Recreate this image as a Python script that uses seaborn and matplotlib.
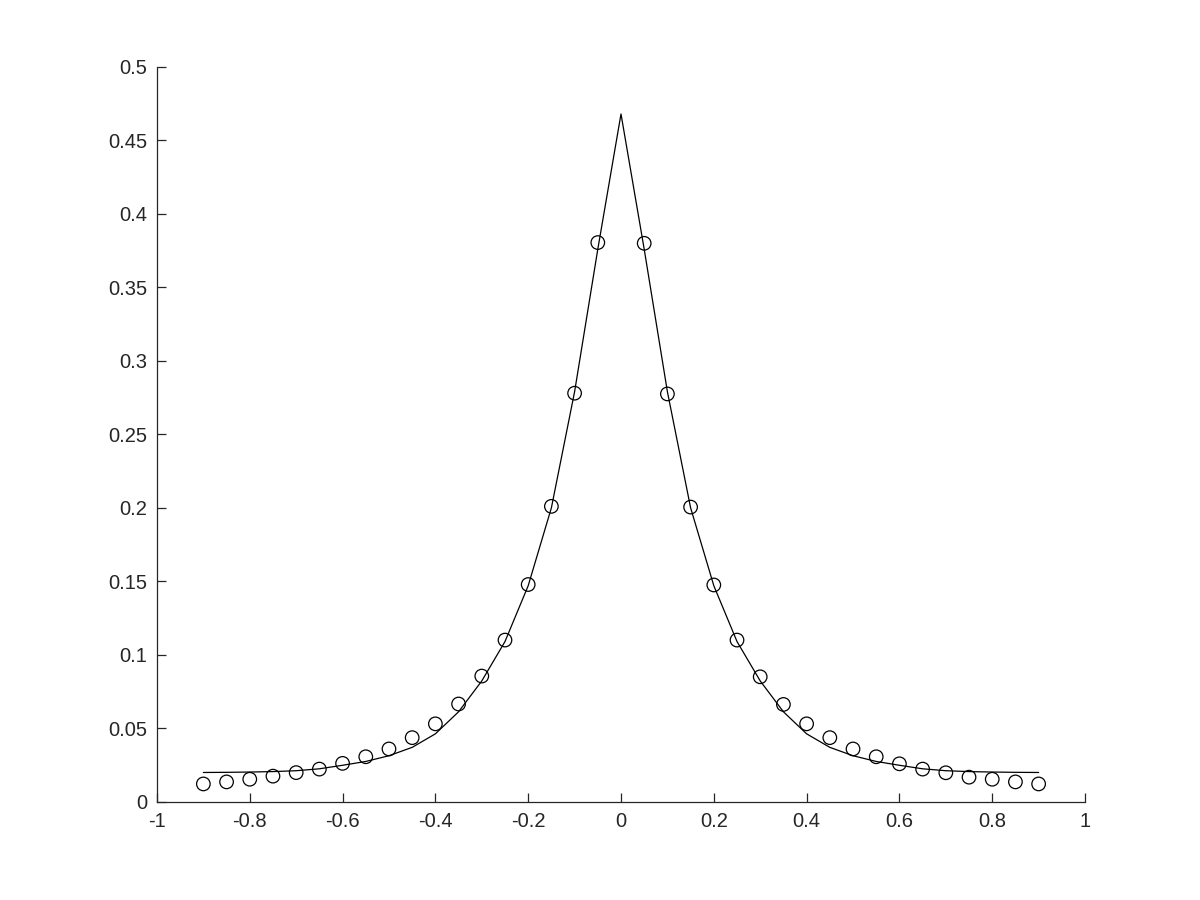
import numpy as np
import pandas as pd
import matplotlib
matplotlib.use("Agg")
import matplotlib.pyplot as plt
import seaborn as sns

# circles (sampled values)
x_pts = [-0.9, -0.85, -0.8, -0.75, -0.7, -0.65, -0.6, -0.55, -0.5, -0.45,
         -0.4, -0.35, -0.3, -0.25, -0.2, -0.15, -0.1, -0.05,
         0.05, 0.1, 0.15, 0.2, 0.25, 0.3, 0.35, 0.4, 0.45, 0.5,
         0.55, 0.6, 0.65, 0.7, 0.75, 0.8, 0.85, 0.9]
y_pts = [0.0121, 0.0135, 0.0153, 0.0174, 0.0198, 0.0222, 0.0261, 0.0306, 0.0359, 0.0436,
         0.0530, 0.0665, 0.0855, 0.1100, 0.1478, 0.2010, 0.2780, 0.3805,
         0.3800, 0.2775, 0.2005, 0.1475, 0.1100, 0.0850, 0.0662, 0.0530, 0.0436, 0.0359,
         0.0306, 0.0258, 0.0222, 0.0197, 0.0167, 0.0153, 0.0135, 0.0121]

# fitted curve
x_fit = [-0.9, -0.85, -0.8, -0.75, -0.7, -0.65, -0.6, -0.55, -0.5, -0.45,
         -0.4, -0.35, -0.3, -0.25, -0.2, -0.15, -0.1, -0.05, 0.0,
         0.05, 0.1, 0.15, 0.2, 0.25, 0.3, 0.35, 0.4, 0.45, 0.5,
         0.55, 0.6, 0.65, 0.7, 0.75, 0.8, 0.85, 0.9]
y_fit = [0.0199, 0.0200, 0.0202, 0.0205, 0.0211, 0.0224, 0.0248, 0.0274, 0.0313, 0.0370,
         0.0462, 0.0612, 0.0822, 0.1090, 0.1470, 0.2000, 0.2790, 0.3760, 0.4680,
         0.3760, 0.2790, 0.2000, 0.1470, 0.1090, 0.0822, 0.0612, 0.0462, 0.0370, 0.0313,
         0.0274, 0.0248, 0.0224, 0.0211, 0.0205, 0.0202, 0.0200, 0.0199]

x_ticks = [-1, -0.8, -0.6, -0.4, -0.2, 0, 0.2, 0.4, 0.6, 0.8, 1]
y_ticks = [0, 0.05, 0.1, 0.15, 0.2, 0.25, 0.3, 0.35, 0.4, 0.45, 0.5]

sns.set_style("ticks")
plt.rcParams["font.family"] = ["Liberation Sans", "DejaVu Sans"]
plt.rcParams["axes.unicode_minus"] = False

fig = plt.figure(figsize=(12, 9), dpi=100)
ax = fig.add_axes([0.1308, 0.1092, 0.7734, 0.8164])

pts = pd.DataFrame({"x": x_pts, "y": y_pts})
fit = pd.DataFrame({"x": x_fit, "y": y_fit})

sns.lineplot(data=fit, x="x", y="y", ax=ax, color="black", linewidth=0.9,
             estimator=None, sort=False)
sns.scatterplot(data=pts, x="x", y="y", ax=ax, marker="o", s=95,
                facecolor="none", edgecolor="black", linewidth=0.9)

ax.set_xlim(-1, 1)
ax.set_ylim(0, 0.5)
ax.set_xticks(x_ticks)
ax.set_yticks(y_ticks)
ax.set_xticklabels(["%g" % t for t in x_ticks])
ax.set_yticklabels(["%g" % t for t in y_ticks])
ax.set_xlabel("")
ax.set_ylabel("")

for side in ["top", "right"]:
    ax.spines[side].set_visible(False)
for side in ["left", "bottom"]:
    ax.spines[side].set_color("#262626")
    ax.spines[side].set_linewidth(0.9)
ax.tick_params(direction="in", length=6.5, width=0.9, color="#262626",
               labelcolor="#262626", labelsize=14.5)
ax.tick_params(axis="x", pad=7.5)
ax.tick_params(axis="y", pad=7)

fig.savefig("out.png", dpi=100)
